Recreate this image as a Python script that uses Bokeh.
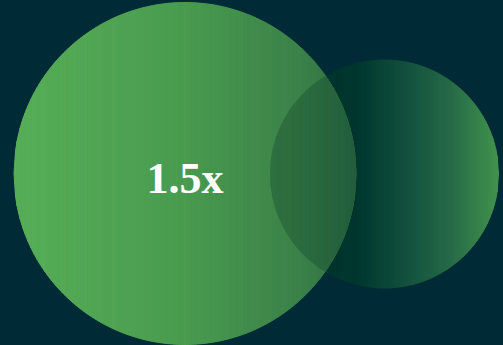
import numpy as np
from bokeh.plotting import figure
from bokeh.models import Range1d, ColumnDataSource
from bokeh.core.properties import value
from bokeh.embed import file_html
from bokeh.resources import INLINE

# ---- data ----
names = ["Larger", "Baseline"]
sizes = [1.5, 1.0]          # relative circle sizes
label = "1.5x"

# ---- layout / style ----
W, H = 503, 345
BG = "#002b36"
UNIT = 114.0                 # pixel radius for size 1.0
centers = [(184.5, 173.0), (384.0, 173.5)]
big_stops = [(0.0, "#58af58"), (0.5, "#4a9c50"), (0.85, "#3b8149"), (1.0, "#2f6f45")]
small_stops = [(0.0, "#00342f"), (0.38, "#00372f"), (0.55, "#0f4c3c"),
               (0.78, "#256947"), (1.0, "#43934f")]
LENS_DARK = "#0a3a2a"


def hex2rgb(h):
    h = h.lstrip("#")
    return np.array([int(h[i:i + 2], 16) for i in (0, 2, 4)], dtype=float)


def rgb2hex(c):
    c = np.clip(np.round(c), 0, 255).astype(int)
    return "#%02x%02x%02x" % tuple(c)


def grad(stops, t):
    t = min(max(t, 0.0), 1.0)
    for (t0, c0), (t1, c1) in zip(stops[:-1], stops[1:]):
        if t <= t1:
            f = 0 if t1 == t0 else (t - t0) / (t1 - t0)
            return hex2rgb(c0) * (1 - f) + hex2rgb(c1) * f
    return hex2rgb(stops[-1][1])


def half(cx, r, x):
    return np.sqrt(max(r * r - (x - cx) ** 2, 0.0))


def circle_strips(cx, cy, r, stops, n):
    xs, ys, cs = [], [], []
    edges = np.linspace(cx - r, cx + r, n + 1)
    for x0, x1 in zip(edges[:-1], edges[1:]):
        h0, h1 = half(cx, r, x0), half(cx, r, x1)
        xs.append([x0, x1, x1, x0])
        ys.append([cy - h0, cy - h1, cy + h1, cy + h0])
        t = ((x0 + x1) / 2 - (cx - r)) / (2 * r)
        cs.append(rgb2hex(grad(stops, t)))
    return dict(xs=xs, ys=ys, color=cs)


radii = [s * UNIT for s in sizes]
(bcx, bcy), (scx, scy) = centers
br, sr = radii

p = figure(width=W, height=H, output_backend="svg", toolbar_location=None,
           x_range=Range1d(0, W), y_range=Range1d(H, 0),
           background_fill_color=BG, border_fill_color=BG,
           min_border=0, outline_line_color=None)
p.axis.visible = False
p.grid.visible = False

# small circle (behind)
src_s = ColumnDataSource(circle_strips(scx, scy, sr, small_stops, 160))
p.patches("xs", "ys", source=src_s, fill_color="color", line_color="color", line_width=1)

# big circle
src_b = ColumnDataSource(circle_strips(bcx, bcy, br, big_stops, 220))
p.patches("xs", "ys", source=src_b, fill_color="color", line_color="color", line_width=1)

# overlap lens (darker)
lx, ly, lc = [], [], []
edges = np.linspace(scx - sr, bcx + br, 120)
for x0, x1 in zip(edges[:-1], edges[1:]):
    tops, bots = [], []
    for x in (x0, x1):
        hb, hs = half(bcx, br, x), half(scx, sr, x)
        tops.append(max(bcy - hb, scy - hs))
        bots.append(min(bcy + hb, scy + hs))
    lx.append([x0, x1, x1, x0])
    ly.append([tops[0], tops[1], bots[1], bots[0]])
    xm = (x0 + x1) / 2
    base = grad(big_stops, (xm - (bcx - br)) / (2 * br))
    lc.append(rgb2hex(base * 0.7 + hex2rgb(LENS_DARK) * 0.3))
src_l = ColumnDataSource(dict(xs=lx, ys=ly, color=lc))
p.patches("xs", "ys", source=src_l, fill_color="color", line_color="color", line_width=0.8)

# label
p.text(x=[bcx], y=[bcy + 5], text=[label], text_color="white",
       text_font=value("Liberation Serif"), text_font_style="bold",
       text_font_size="44px", text_align="center", text_baseline="alphabetic")

html = file_html(p, INLINE, title="1.5x")
html = html.replace("</head>",
                    "<style>html,body{margin:0;padding:0;background:#002b36;overflow:hidden}</style></head>", 1)
open("out.html", "w").write(html)
